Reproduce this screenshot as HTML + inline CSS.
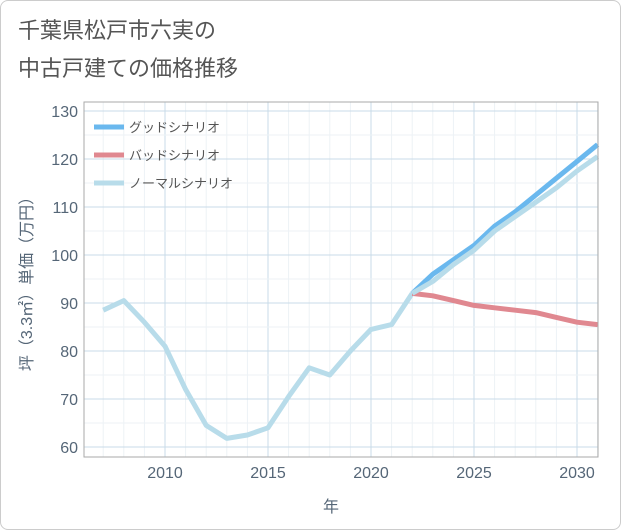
<!DOCTYPE html>
<html><head><meta charset="utf-8">
<style>
body{margin:0;background:#fff;font-family:"Liberation Sans","Noto Sans CJK JP",sans-serif;}
#wrap{position:relative;width:619px;height:528px;border:1px solid #ccc;border-radius:8px;overflow:hidden;background:#fff}
</style></head><body>
<div id="wrap">
<svg id="chart" width="621" height="530" style="position:absolute;left:-1px;top:-1px">
<text x="18" y="38" font-size="22" fill="#555">千葉県松戸市六実の</text>
<text x="18" y="76" font-size="22" fill="#555">中古戸建ての価格推移</text>
<g id="grid"></g><g id="series"></g><g id="axes"></g>
<rect x="84" y="102" width="514" height="355" fill="none" stroke="#aaa"/>
<text x="331" y="512" font-size="16" fill="#567" text-anchor="middle">年</text>
<text transform="translate(32,280) rotate(-90)" font-size="16" fill="#567" text-anchor="middle">坪（3.3㎡）単価（万円）</text>
<g>
<line x1="94" y1="127" x2="124" y2="127" stroke="#6ab8ee" stroke-width="5"/>
<text x="129" y="132" font-size="13" fill="#555">グッドシナリオ</text>
<line x1="94" y1="155" x2="124" y2="155" stroke="#e08890" stroke-width="5"/>
<text x="129" y="160" font-size="13" fill="#555">バッドシナリオ</text>
<line x1="94" y1="183" x2="124" y2="183" stroke="#b8dcea" stroke-width="5"/>
<text x="129" y="188" font-size="13" fill="#555">ノーマルシナリオ</text>
</g>
</svg></div>
<script>
const yearsHist=[2007,2008,2009,2010,2011,2012,2013,2014,2015,2016,2017,2018,2019,2020,2021,2022];
const histValues=[88.5,90.5,86,81,72,64.5,61.8,62.5,64,70.5,76.5,75,80,84.5,85.5,92];
const yearsFuture=[2022,2023,2024,2025,2026,2027,2028,2029,2030,2031];
const goodValues=[92,96,99,102,106,109,112.5,116,119.5,123];
const badValues=[92,91.5,90.5,89.5,89,88.5,88,87,86,85.5];
const normalValues=[92,94.5,98,101,105,108,111,114,117.5,120.5];
const xTicks=[2010,2015,2020,2025,2030];
const yTicks=[60,70,80,90,100,110,120,130];
const NS="http://www.w3.org/2000/svg";
const X=y=>165+(y-2010)*20.6;
const Y=v=>447-(v-60)*4.8;
function mk(t,a,p){const e=document.createElementNS(NS,t);for(const k in a)e.setAttribute(k,a[k]);p.appendChild(e);return e;}
const grid=document.getElementById('grid'),axes=document.getElementById('axes'),ser=document.getElementById('series');
for(let y=2007;y<=2031;y++){const l=mk('line',{x1:X(y),x2:X(y),y1:102,y2:457,stroke:y%5==0?'#c9dbe8':'#edf2f6'},grid);
}
for(let v=60;v<=130;v+=5){const l=mk('line',{x1:84,x2:598,y1:Y(v),y2:Y(v),stroke:v%10==0?'#c9dbe8':'#edf2f6'},grid);
}
xTicks.forEach(t=>{const e=mk('text',{x:X(t),y:478,'font-size':16,fill:'#567','text-anchor':'middle'},axes);e.textContent=t;
});
yTicks.forEach(t=>{const e=mk('text',{x:78,y:Y(t)+6,'font-size':16,fill:'#567','text-anchor':'end'},axes);e.textContent=t;
});
function line(xs,vs,c,n){const p=mk('polyline',{points:xs.map((x,i)=>X(x)+','+Y(vs[i])).join(' '),fill:'none',stroke:c,'stroke-width':5,'stroke-linejoin':'round'},ser);
}
line(yearsHist,histValues,'#b8dcea','history-line');
line(yearsFuture,goodValues,'#6ab8ee','good-scenario-line');
line(yearsFuture,badValues,'#e08890','bad-scenario-line');
line(yearsFuture,normalValues,'#b8dcea','normal-scenario-line');
</script>
</body></html>
